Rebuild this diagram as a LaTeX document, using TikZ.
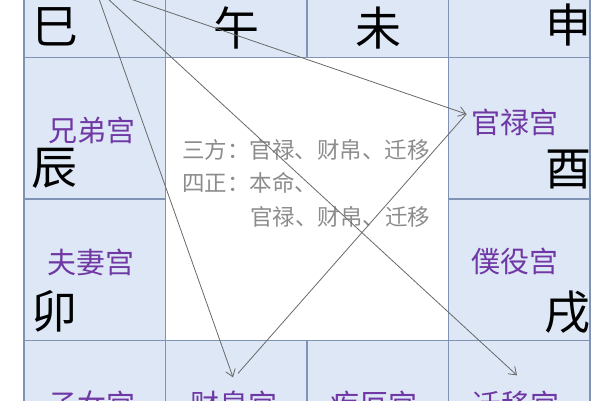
\documentclass[tikz,border=0pt]{standalone}
\usepackage{fontspec}
\setmainfont{Noto Sans CJK SC}
\usetikzlibrary{arrows.meta}
\definecolor{cellblue}{RGB}{221,231,246}
\definecolor{cellline}{RGB}{128,147,180}
\definecolor{gongpurple}{RGB}{112,56,164}
\definecolor{notegray}{RGB}{140,140,140}
\definecolor{linkgray}{RGB}{105,105,105}

\begin{document}
\begin{tikzpicture}[x=1pt,y=-1pt]
\def \gongsize {141.5}
\useasboundingbox (0,0) rectangle (600,400);
\clip (0,0) rectangle (600,400);
\fill[white] (0,0) rectangle (600,400);

   \tikzset{CellStyle/.style = {draw = cellline, line width = 1.5pt, fill = cellblue, minimum size = \gongsize pt, inner sep = 0pt}}
   \node[CellStyle] (si)   at (94.75,-13.25) {};
   \node[CellStyle] (wu)   at (236.25,-13.25) {};
   \node[CellStyle] (wei)  at (377.75,-13.25) {};
   \node[CellStyle] (shen) at (519.25,-13.25) {};
   \node[CellStyle] (chen) at (94.75,128.25) {};
   \node[CellStyle] (you)  at (519.25,128.25) {};
   \node[CellStyle] (mao)  at (94.75,269.75) {};
   \node[CellStyle] (xu)   at (519.25,269.75) {};
   \node[CellStyle] (yin)  at (94.75,411.25) {};
   \node[CellStyle] (chou) at (236.25,411.25) {};
   \node[CellStyle] (zi)   at (377.75,411.25) {};
   \node[CellStyle] (hai)  at (519.25,411.25) {};

%  earthly branches
   \tikzset{BranchStyle/.style = {inner sep = 0pt, font = \fontsize{46}{46}\selectfont}}
   \node[BranchStyle] (siB)   at (55,27) {巳};
   \node[BranchStyle] (wuB)   at (236,28) {午};
   \node[BranchStyle] (weiB)  at (378,28) {未};
   \node[BranchStyle] (shenB) at (568,25) {申};
   \node[BranchStyle] (chenB) at (54,168) {辰};
   \node[BranchStyle] (youB)  at (568,169) {酉};
   \node[BranchStyle] (maoB)  at (54,311) {卯};
   \node[BranchStyle] (xuB)   at (567,312) {戌};

%  palaces
   \tikzset{GongStyle/.style = {inner sep = 0pt, text = gongpurple, font = \fontsize{29}{29}\selectfont}}
   \node[GongStyle] (xiongdi) at (92,130) {兄弟宫};
   \node[GongStyle] (guanlu)  at (515,122) {官禄宫};
   \node[GongStyle] (fuqi)    at (91,262) {夫妻宫};
   \node[GongStyle] (puyi)    at (515,261) {僕役宫};
   \node[GongStyle] (zinv)    at (92,404) {子女宫};
   \node[GongStyle] (caibo)   at (234,404) {财帛宫};
   \node[GongStyle] (jie)     at (374,404) {疾厄宫};
   \node[GongStyle] (qianyi)  at (516,404) {迁移宫};

   \tikzset{NoteStyle/.style = {inner sep = 0pt, anchor = west, text = notegray, font = \fontsize{22.5}{22.5}\selectfont}}
   \node[NoteStyle] (sanfang)  at (182,150) {三方：官禄、财帛、迁移};
   \node[NoteStyle] (sizheng)  at (182,183) {四正：本命、};
   \node[NoteStyle] (sizheng2) at (250,217) {官禄、财帛、迁移};

   \tikzset{LinkStyle/.style = {draw = linkgray, line width = 0.8pt, -{Straight Barb[length=7pt,width=10pt]}}}
   \draw[LinkStyle] (si.center) -- ([shift={(-5,-8)}]guanlu.west);
   \draw[LinkStyle] (si.center) -- ([shift={(-1,-13)}]caibo.north);
   \draw[LinkStyle] (si.center) -- ([shift={(1,-15)}]qianyi.north);
   \draw[draw = linkgray, line width = 0.8pt] ([shift={(4,-17)}]caibo.north) -- ([shift={(-5,-8)}]guanlu.west);

\end{tikzpicture}
\end{document}
